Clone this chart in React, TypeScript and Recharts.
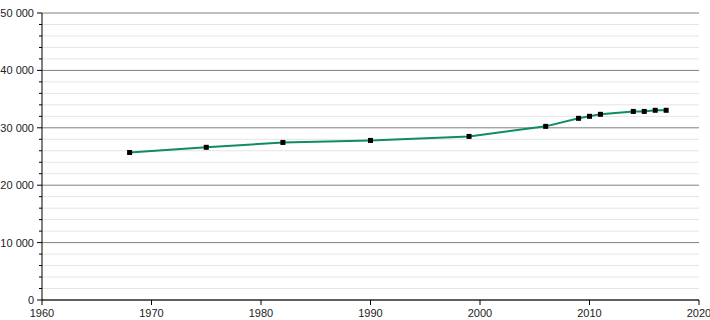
import React from "react";
import { LineChart, Line, XAxis, YAxis, CartesianGrid } from "recharts";

const years = [1968, 1975, 1982, 1990, 1999, 2006, 2009, 2010, 2011, 2014, 2015, 2016, 2017];
const population = [25700, 26600, 27450, 27800, 28500, 30250, 31650, 32000, 32350, 32850, 32850, 33050, 33050];
const xTicks = [1960, 1970, 1980, 1990, 2000, 2010, 2020];
const yTicks = [
  0, 2000, 4000, 6000, 8000, 10000, 12000, 14000, 16000, 18000, 20000, 22000, 24000, 26000, 28000, 30000,
  32000, 34000, 36000, 38000, 40000, 42000, 44000, 46000, 48000, 50000,
];

const data = years.map((year, i) => ({ year, pop: population[i] }));

const fmt = (v: number) => String(v).replace(/\B(?=(\d{3})+(?!\d))/g, " ");

const YTick = (props: any) => {
  const { x, y, payload } = props;
  const major = payload.value % 10000 === 0;
  return (
    <g>
      <line x1={x - (major ? 5 : 3)} x2={x} y1={y} y2={y} stroke="#000" />
      {major && (
        <text x={x - 8} y={y} dy={4} textAnchor="end" fontSize={11} fill="#222" fontFamily="Liberation Sans, Arial, sans-serif">
          {fmt(payload.value)}
        </text>
      )}
    </g>
  );
};

const gridLine = (props: any) => {
  const { x1, x2, y1, y2, index } = props;
  const major = index % 5 === 0;
  return (
    <line key={`g-${index}`} x1={x1} x2={x2} y1={y1} y2={y2} stroke={major ? "#808080" : "#e4e4e4"} strokeWidth={1} />
  );
};

const Square = (props: any) => {
  const { cx, cy, index } = props;
  return <rect key={`m-${index}`} x={cx - 2.5} y={cy - 2.5} width={5} height={5} fill="#000" />;
};

export default function App() {
  return (
    <div style={{ position: "absolute", left: 0, top: 0 }}>
      <LineChart width={710} height={320} data={data} margin={{ top: 13, right: 11, bottom: 0, left: 0 }}>
        <CartesianGrid vertical={false} horizontal={gridLine} />
        <XAxis
          dataKey="year"
          type="number"
          domain={[1960, 2020]}
          ticks={xTicks}
          height={20}
          stroke="#000"
          tickSize={5}
          tickMargin={4}
          tick={{ fontSize: 11, fill: "#222", fontFamily: "Liberation Sans, Arial, sans-serif" }}
        />
        <YAxis
          type="number"
          domain={[0, 50000]}
          ticks={yTicks}
          interval={0}
          width={42}
          stroke="#000"
          tickSize={0}
          tickMargin={0}
          tickLine={false}
          tick={<YTick />}
        />
        <Line
          type="linear"
          dataKey="pop"
          stroke="#108a68"
          strokeWidth={2}
          dot={<Square />}
          activeDot={false}
          isAnimationActive={false}
        />
      </LineChart>
    </div>
  );
}
